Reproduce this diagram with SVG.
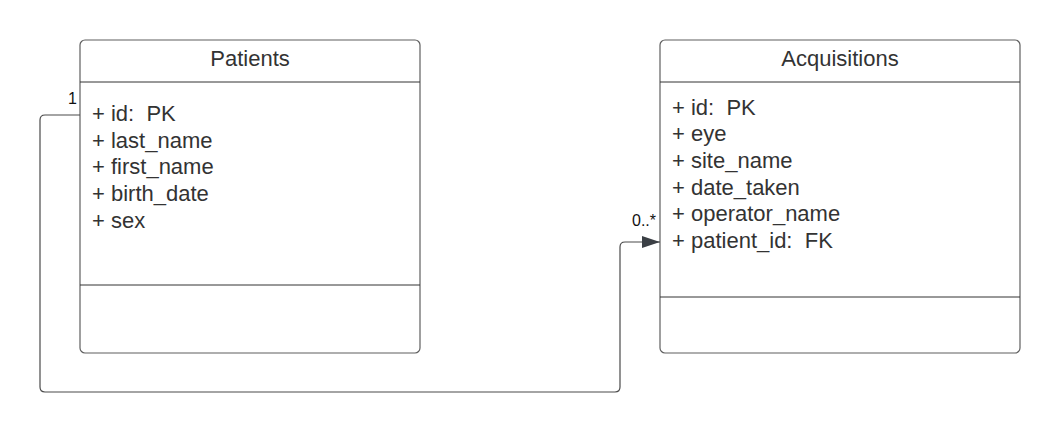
<svg xmlns="http://www.w3.org/2000/svg" width="1061" height="433" viewBox="0 0 1061 433">
<style>
.box{fill:#fff;stroke:#5f5f5f;stroke-width:1.2}
.ln{stroke:#333;stroke-width:1}
.t{font-family:"Liberation Sans",Arial,sans-serif;font-size:22px;fill:#333;white-space:pre}
.c{fill:none;stroke:#4a4a4a;stroke-width:1.2}
.lb{font-family:"Liberation Sans",Arial,sans-serif;font-size:16px;fill:#111}
</style>
<defs>
<marker id="ah" markerWidth="20" markerHeight="14" refX="18" refY="6" orient="auto" markerUnits="userSpaceOnUse">
<path d="M0,0 L18,6 L0,12 z" fill="#3b3f45"/>
</marker>
</defs>
<rect width="1061" height="433" fill="#fff"/>
<g id="patients">
<rect class="box" x="80" y="40" width="340" height="313" rx="5"/>
<line class="ln" x1="80" y1="82" x2="420" y2="82"/>
<line class="ln" x1="80" y1="285" x2="420" y2="285"/>
<text class="t" x="250" y="66" text-anchor="middle">Patients</text>
<text class="t" x="92" y="121" xml:space="preserve">+ id:  PK</text>
<text class="t" x="92" y="148">+ last_name</text>
<text class="t" x="92" y="174">+ first_name</text>
<text class="t" x="92" y="201">+ birth_date</text>
<text class="t" x="92" y="228">+ sex</text>
</g>
<g id="acquisitions">
<rect class="box" x="660" y="40" width="360" height="313" rx="5"/>
<line class="ln" x1="660" y1="82" x2="1020" y2="82"/>
<line class="ln" x1="660" y1="297" x2="1020" y2="297"/>
<text class="t" x="840" y="66" text-anchor="middle">Acquisitions</text>
<text class="t" x="672" y="115" xml:space="preserve">+ id:  PK</text>
<text class="t" x="672" y="141">+ eye</text>
<text class="t" x="672" y="168">+ site_name</text>
<text class="t" x="672" y="195">+ date_taken</text>
<text class="t" x="672" y="221">+ operator_name</text>
<text class="t" x="672" y="248" xml:space="preserve">+ patient_id:  FK</text>
</g>
<g id="connectors">
<path class="c" d="M80,115 L45,115 Q40,115 40,120 L40,387 Q40,392 45,392 L615,392 Q620,392 620,387 L620,247 Q620,242 625,242 L660,242" marker-end="url(#ah)"/>
<text class="lb" x="77" y="104" text-anchor="end">1</text>
<text class="lb" x="632" y="226">0..*</text>
</g>
</svg>
